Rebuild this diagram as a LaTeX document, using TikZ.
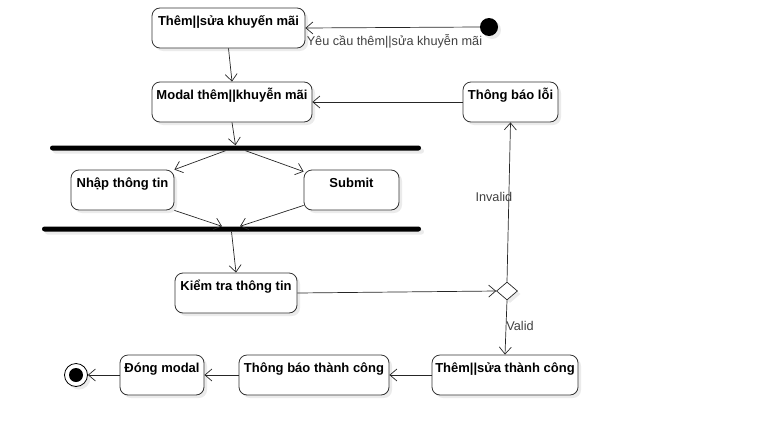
\documentclass[tikz,border=0pt]{standalone}
\usepackage{fontspec}
\setmainfont{Liberation Sans}
\usetikzlibrary{arrows.meta,shapes.geometric,shadows}
\begin{document}
\begin{tikzpicture}[x=1pt,y=-1pt,
  myshadow/.style={drop shadow={shadow xshift=3pt,shadow yshift=-3pt,fill=black,opacity=0.08}},
  act/.style={draw=black!80,line width=0.8pt,rounded corners=8pt,fill=white,myshadow,inner sep=0pt,
    minimum height=40pt},
  captxt/.style={font=\fontsize{13}{15}\selectfont\bfseries},
  bar/.style={fill=black,rounded corners=2.5pt,minimum height=5pt,inner sep=0pt,myshadow},
  flow/.style={draw=black!85,line width=0.7pt,-{Straight Barb[length=7pt,width=12pt]}},
  lbl/.style={font=\fontsize{12.7}{14}\selectfont,text=black!75,inner sep=1pt}
]
\useasboundingbox (0,0) rectangle (759,423);
\newcommand{\actnode}[5]{%
  \node[act,minimum width=#4] (#1) at (#2,#3) {};
  \node[captxt,anchor=base] (#1t) at ([yshift=-18pt]#1.north) {#5};}
\actnode{t1}{228.5}{28}{153pt}{Thêm||sửa khuyến mãi}
\actnode{modal}{232}{102}{160pt}{Modal thêm||khuyễn mãi}
\actnode{loi}{510.5}{102}{95pt}{Thông báo lỗi}
\actnode{nhap}{122.5}{190}{103pt}{Nhập thông tin}
\actnode{sub}{351.5}{190}{95pt}{Submit}
\actnode{kiem}{236}{293}{122pt}{Kiểm tra thông tin}
\actnode{ttc}{505}{375}{146pt}{Thêm||sửa thành công}
\actnode{tbtc}{314}{375}{150pt}{Thông báo thành công}
\actnode{dong}{162}{375}{84pt}{Đóng modal}

\node[circle,fill=black,minimum size=18pt,inner sep=0pt,myshadow] (init) at (489,27) {};
\node[circle,draw=black,line width=0.8pt,fill=white,minimum size=23pt,inner sep=0pt,myshadow] (fin) at (76,375) {};
\node[circle,fill=black,minimum size=14pt,inner sep=0pt] (finc) at (fin) {};

\node[bar,minimum width=371pt] (bar1) at (235.5,148) {};
\node[bar,minimum width=379pt] (bar2) at (231.5,229) {};

\node[diamond,draw=black!85,line width=0.7pt,fill=white,myshadow,minimum width=21pt,minimum height=18pt,inner sep=0pt] (dec) at (507,291) {};

\draw[flow] (init.west) -- (t1.east)
  node[lbl,pos=1,anchor=north west,yshift=-5pt] (l1) {Yêu cầu thêm||sửa khuyễn mãi};
\draw[flow] (t1.south) -- (modal.north);
\draw[flow] (loi.west) -- (modal.east);
\draw[flow] (modal.south) -- (bar1.north);
\draw[flow] ([xshift=-10pt]bar1.south) -- (nhap.north east);
\draw[flow] ([xshift=10pt]bar1.south) -- ([yshift=-2pt]sub.north west);
\draw[flow] (nhap.south east) -- ([xshift=-9.5pt]bar2.north);
\draw[flow] ([yshift=5pt]sub.south west) -- ([xshift=8.5pt]bar2.north);
\draw[flow] (bar2.south) -- (kiem.north);
\draw[flow] (kiem.east) -- (dec.west);
\draw[flow] (dec.north) -- (loi.south) node[lbl,pos=0.53,xshift=-15pt] (linv) {Invalid};
\draw[flow] (dec.south) -- (ttc.north) node[lbl,pos=0.48,right,xshift=-1pt] (lval) {Valid};
\draw[flow] (ttc.west) -- (tbtc.east);
\draw[flow] (tbtc.west) -- (dong.east);
\draw[flow] (dong.west) -- (fin.east);
\end{tikzpicture}
\end{document}
